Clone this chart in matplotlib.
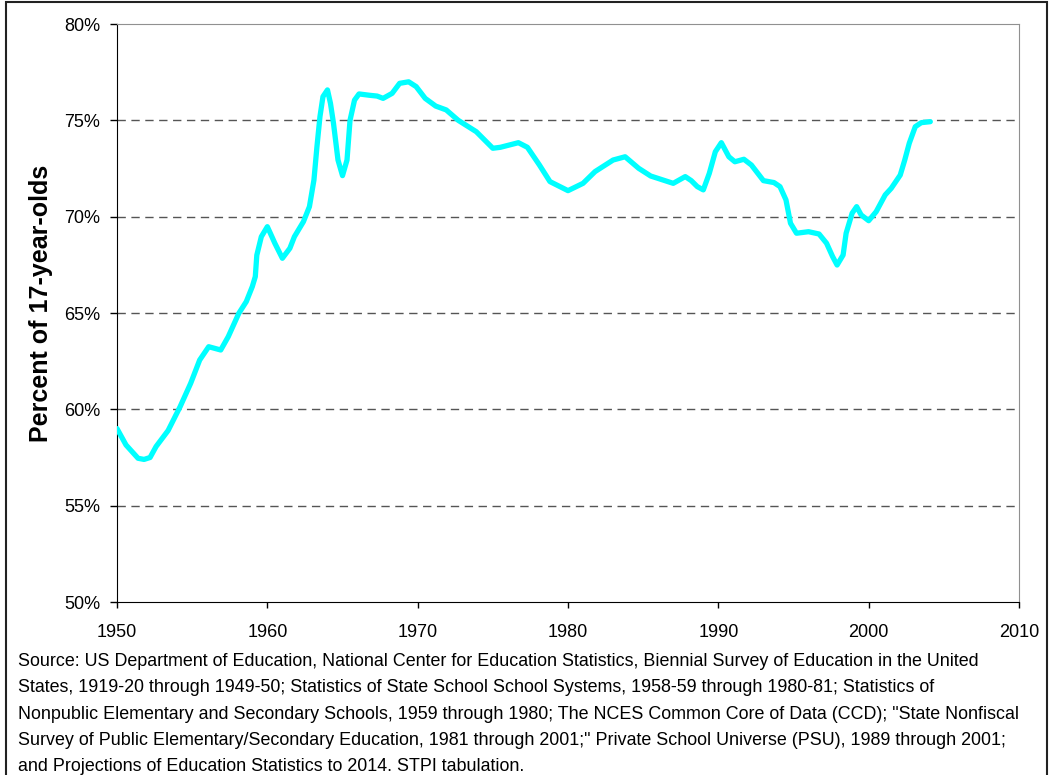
import matplotlib.pyplot as plt
from matplotlib.patches import Rectangle

plt.rcParams['font.family'] = ['Liberation Sans', 'DejaVu Sans']

# share of 17-year-olds graduating
years = [1950.0, 1950.6, 1951.4, 1951.8, 1952.2, 1952.6, 1953.4, 1954.2, 1954.9, 1955.5,
         1956.1, 1956.9, 1957.4, 1958.1, 1958.6, 1959.0, 1959.2, 1959.3, 1959.6, 1960.0,
         1960.2, 1960.5, 1961.0, 1961.5, 1961.8, 1962.4, 1962.8, 1963.1, 1963.3, 1963.5,
         1963.7, 1964.0, 1964.2, 1964.4, 1964.7, 1965.0, 1965.3, 1965.5, 1965.8, 1966.1,
         1966.8, 1967.3, 1967.7, 1968.3, 1968.8, 1969.4, 1969.9, 1970.5, 1971.2, 1971.9,
         1972.7, 1973.9, 1975.0, 1975.5, 1976.7, 1977.3, 1978.1, 1978.8, 1980.0, 1981.0,
         1981.8, 1983.0, 1983.8, 1984.7, 1985.5, 1987.0, 1987.8, 1988.2, 1988.6, 1989.0,
         1989.4, 1989.8, 1990.2, 1990.7, 1991.1, 1991.7, 1992.2, 1993.0, 1993.7, 1994.1,
         1994.5, 1994.8, 1995.2, 1996.0, 1996.7, 1997.2, 1997.6, 1997.9, 1998.3, 1998.5,
         1998.9, 1999.2, 1999.5, 2000.0, 2000.5, 2001.1, 2001.5, 2002.1, 2002.4, 2002.7,
         2003.1, 2003.5, 2004.1]
pct = [59.0, 58.15, 57.46, 57.4, 57.5, 58.07, 58.9, 60.14, 61.35, 62.56,
       63.25, 63.08, 63.77, 64.98, 65.59, 66.37, 66.89, 68.0, 68.96, 69.48,
       69.14, 68.62, 67.84, 68.36, 68.96, 69.74, 70.52, 71.9, 73.63, 75.19,
       76.23, 76.58, 75.88, 74.85, 72.94, 72.13, 72.94, 75.0, 76.05, 76.37,
       76.3, 76.26, 76.14, 76.4, 76.92, 77.0, 76.75, 76.14, 75.74, 75.54,
       75.0, 74.41, 73.55, 73.6, 73.84, 73.6, 72.68, 71.82, 71.35, 71.73,
       72.34, 72.94, 73.11, 72.51, 72.11, 71.73, 72.08, 71.87, 71.56, 71.39,
       72.25, 73.37, 73.84, 73.11, 72.85, 72.98, 72.68, 71.87, 71.77, 71.56,
       70.87, 69.66, 69.14, 69.22, 69.1, 68.62, 67.93, 67.49, 68.01, 69.14,
       70.18, 70.52, 70.09, 69.79, 70.26, 71.13, 71.47, 72.16, 72.94, 73.81,
       74.67, 74.88, 74.93]

x_ticks = [1950, 1960, 1970, 1980, 1990, 2000, 2010]
y_ticks = [50, 55, 60, 65, 70, 75, 80]
grid_levels = [55, 60, 65, 70, 75]

source = ("Source: US Department of Education, National Center for Education Statistics, Biennial Survey of Education in the United\n"
          "States, 1919-20 through 1949-50; Statistics of State School School Systems, 1958-59 through 1980-81; Statistics of\n"
          "Nonpublic Elementary and Secondary Schools, 1959 through 1980; The NCES Common Core of Data (CCD); \"State Nonfiscal\n"
          "Survey of Public Elementary/Secondary Education, 1981 through 2001;\" Private School Universe (PSU), 1989 through 2001;\n"
          "and Projections of Education Statistics to 2014. STPI tabulation.")

W, H = 1051, 775
fig = plt.figure(figsize=(W / 100, H / 100), dpi=100)
ax = fig.add_axes([117 / W, 1 - 602 / H, (1019 - 117) / W, (602 - 24) / H])

for g in grid_levels:
    ax.axhline(g, color='#555555', lw=1, linestyle=(0, (6, 4)), zorder=1)

ax.plot(years, pct, color='#00FFFF', lw=3.8, solid_joinstyle='round',
        solid_capstyle='round', zorder=3)

ax.set_xlim(1950, 2010)
ax.set_ylim(50, 80)
ax.set_xticks(x_ticks)
ax.set_yticks(y_ticks)
ax.set_yticklabels([f'{v}%' for v in y_ticks])
ax.tick_params(axis='y', length=5, width=1, pad=7, labelsize=13)
ax.tick_params(axis='x', length=4, width=1, pad=12, labelsize=13)

for side in ['top', 'right']:
    ax.spines[side].set_color('#909090')
for side in ['left', 'bottom']:
    ax.spines[side].set_color('black')

fig.text(41 / W, 1 - 303 / H, 'Percent of 17-year-olds', rotation=90,
         ha='center', va='center', fontsize=18, fontweight='bold')

fig.text(18 / W, 1 - 653 / H, source, ha='left', va='top', fontsize=12.9,
         linespacing=1.72)

# frame round the whole picture
fig.patches.append(Rectangle((6 / W, -0.01), (1047 - 6) / W, 1.01 - 2 / H,
                             transform=fig.transFigure, fill=False,
                             edgecolor='#222222', lw=1.5))

fig.savefig('out.png', dpi=100)
